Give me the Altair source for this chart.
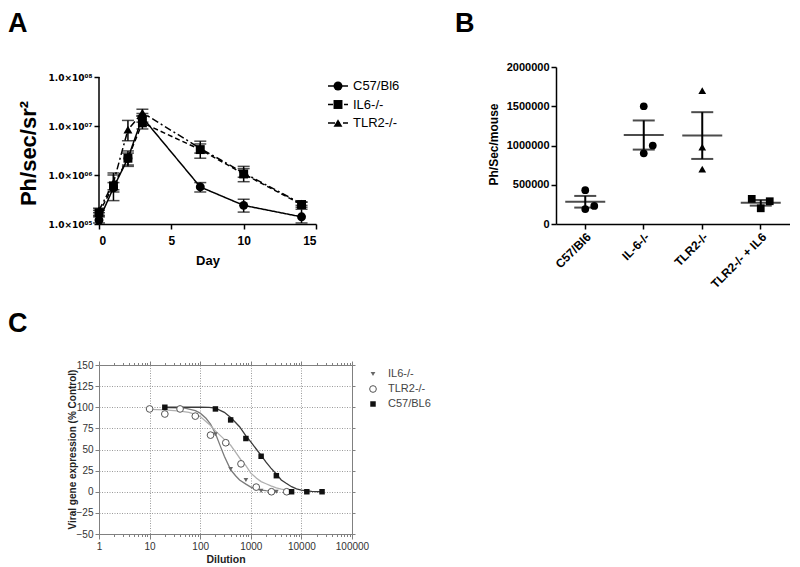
import altair as alt
import pandas as pd

FONT = "Liberation Sans"

# ---------------- Panel A data ----------------
days = [0, 1, 2, 3, 7, 10, 14]
a_series = ["C57/Bl6", "IL6-/-", "TLR2-/-"]
c57_mean = [1.2e5, 5.5e5, 2.2e6, 1.5e7, 5.7e5, 2.4e5, 1.4e5]
c57_lo = [1.05e5, 4.5e5, 1.6e6, 1.2e7, 4.5e5, 1.75e5, 1.05e5]
c57_hi = [1.4e5, 7.0e5, 2.8e6, 1.8e7, 7.0e5, 3.2e5, 2.0e5]
il6_mean = [1.7e5, 6.0e5, 2.2e6, 1.16e7, 3.3e6, 1.05e6, 2.5e5]
il6_lo = [1.5e5, 3.0e5, 1.5e6, 8.7e6, 2.2e6, 7.3e5, 2.2e5]
il6_hi = [1.9e5, 1.1e6, 3.1e6, 1.6e7, 4.9e6, 1.5e6, 2.8e5]
tlr2_mean = [1.9e5, 7.0e5, 8.4e6, 1.87e7, 3.5e6, 1.1e6, 2.6e5]
tlr2_lo = [1.7e5, 5.0e5, 5.0e6, 1.6e7, 2.8e6, 9.0e5, 2.4e5]
tlr2_hi = [2.1e5, 1.0e6, 1.3e7, 2.2e7, 4.3e6, 1.35e6, 2.8e5]
a_ticks = [1e5, 1e6, 1e7, 1e8]
a_xticks = [0, 5, 10, 15]

# ---------------- Panel B data ----------------
b_groups = ["C57/Bl6", "IL-6-/-", "TLR2-/-", "TLR2-/- + IL6"]
b_c57 = [430000, 190000, 230000]
b_il6 = [1500000, 900000, 1000000]
b_tlr2 = [1700000, 980000, 700000]
b_tlr2_il6 = [320000, 290000, 200000]
b_slots = [[0, 0, 1], [0, 0, 1], [0, 0, 0], [-1, 1, 0]]
b_ticks = [0, 500000, 1000000, 1500000, 2000000]

# ---------------- Panel C data ----------------
c_series = ["IL6-/-", "TLR2-/-", "C57/BL6"]
il6_dil = [200, 400, 800, 1600, 3200]
il6_val = [68, 27, 14, 1, 0]
tlr2_dil = [10, 20, 40, 80, 160, 320, 640, 1280, 2560, 5120]
tlr2_val = [98, 92, 98, 89.5, 67, 58, 33, 5.5, 0, 0]
c57_dil = [20, 200, 400, 800, 1600, 3200, 6400, 12800, 25600]
c57_val = [100, 98, 85, 63, 42, 19, 0, 0, 0]
# fitted curves
il6_fit_x = [20, 50, 80, 100, 130, 160, 200, 250, 300, 400, 500, 600, 800, 1000, 1300, 1600, 2000, 2500, 3200]
il6_fit_y = [99.5, 99, 96, 93, 87, 80, 69, 54, 42, 26, 19, 14, 9, 5.5, 3, 2, 1.3, 0.8, 0.3]
tlr2_fit_x = [10, 20, 40, 60, 80, 100, 150, 200, 300, 400, 500, 650, 800, 1000, 1300, 1600, 2000, 2500, 3200, 4000, 5120]
tlr2_fit_y = [97.5, 97, 95.5, 94, 91.5, 89, 80, 72, 62, 55, 47, 37, 31, 22, 16, 12, 9.5, 7, 4.5, 3, 2]
c57_fit_x = [20, 50, 100, 150, 200, 300, 400, 500, 600, 800, 1000, 1300, 1600, 2000, 2500, 3200, 4000, 5000, 6400, 8000, 10000, 12800, 16000, 20000, 25600]
c57_fit_y = [100, 100, 100, 99.8, 99, 94, 88, 82, 77, 66, 59, 50, 43, 35, 28, 21, 14, 10, 6, 3.5, 2, 1, 0.5, 0.2, 0]
c_major = [1, 10, 100, 1000, 10000, 100000]
c_yticks = [-50, -25, 0, 25, 50, 75, 100, 125, 150]

# =============== Panel A ===============
rows = []
for name, m, lo, hi in zip(a_series, [c57_mean, il6_mean, tlr2_mean],
                           [c57_lo, il6_lo, tlr2_lo], [c57_hi, il6_hi, tlr2_hi]):
    for d, mv, l, h in zip(days, m, lo, hi):
        rows.append({"series": name, "day": d, "value": mv, "lo": l, "hi": h})
dfA = pd.DataFrame(rows)

AW, AH = 217, 157
a_dash = [[1, 0], [5, 3], [7, 3, 2, 3]]
a_shapes = ["circle", "square", "triangle-up"]
yscaleA = alt.Scale(type="log", domain=[1e5, 1.6e8], nice=False)
xscaleA = alt.Scale(domain=[0, 15], nice=False)
lab = "'1.0×10' + (datum.value > 5e7 ? '⁰⁸' : datum.value > 5e6 ? '⁰⁷' : datum.value > 5e5 ? '⁰⁶' : '⁰⁵')"

axisAx = alt.Axis(values=a_xticks, title="Day", titleFontSize=13, titleFontWeight="bold",
                  titleY=36, titleBaseline="middle", labelFontSize=12, labelFontWeight="bold",
                  labelPadding=6, tickSize=5, tickWidth=1.5, domainWidth=1.5,
                  domainColor="black", tickColor="black", grid=False, labelColor="black",
                  titleColor="black", labelOverlap=False)
axisAy = alt.Axis(values=a_ticks, labelExpr=lab, domain=False, title="Ph/sec/sr²",
                  titleFontSize=22, titleFontWeight="bold", titleX=-71, titleY=86,
                  titleAngle=-90, titleAlign="center", titleBaseline="middle",
                  labelFont="DejaVu Sans", labelFontSize=9, labelFontWeight="bold",
                  labelPadding=2, tickSize=5, tickWidth=1.5, tickColor="black", grid=False,
                  labelColor="black", titleColor="black", labelOverlap=False)


def ax_a(field):
    return alt.X(field, scale=xscaleA, axis=axisAx)


def ay_a(field):
    return alt.Y(field, scale=yscaleA, axis=axisAy)


baseA = alt.Chart(dfA)
linesA = baseA.mark_line(color="black", strokeWidth=1.5).encode(
    x=ax_a("day:Q"), y=ay_a("value:Q"),
    strokeDash=alt.StrokeDash("series:N", scale=alt.Scale(domain=a_series, range=a_dash), legend=None),
    detail="series:N")
errA = baseA.mark_rule(color="black", strokeWidth=1.5).encode(
    x=ax_a("day:Q"), y=ay_a("lo:Q"), y2="hi:Q")
capLoA = baseA.mark_tick(color="black", size=12, thickness=1.5, orient="horizontal").encode(
    x=ax_a("day:Q"), y=ay_a("lo:Q"))
capHiA = baseA.mark_tick(color="black", size=12, thickness=1.5, orient="horizontal").encode(
    x=ax_a("day:Q"), y=ay_a("hi:Q"))
ptsA = baseA.mark_point(filled=True, color="black", size=80, opacity=1).encode(
    x=ax_a("day:Q"), y=ay_a("value:Q"),
    shape=alt.Shape("series:N", scale=alt.Scale(domain=a_series, range=a_shapes), legend=None))
axisLineA = alt.Chart(pd.DataFrame({"lo": [a_ticks[0]], "hi": [a_ticks[-1]]})).mark_rule(
    color="black", strokeWidth=1.5).encode(
    x=alt.value(0), y=ay_a("lo:Q"), y2="hi:Q")

legA = []
leg_y = [19, 37.5, 56]
for name, dash, shp, ly in zip(a_series, a_dash, a_shapes, leg_y):
    d1 = pd.DataFrame({"label": [name]})
    legA.append(alt.Chart(d1).mark_rule(color="black", strokeWidth=1.5, strokeDash=dash).encode(
        x=alt.value(229), x2=alt.value(249), y=alt.value(ly)))
    legA.append(alt.Chart(d1).mark_point(filled=True, color="black", size=80, shape=shp, opacity=1).encode(
        x=alt.value(239), y=alt.value(ly)))
    legA.append(alt.Chart(d1).mark_text(align="left", baseline="middle", fontSize=13, font=FONT,
                                        color="black").encode(
        x=alt.value(254), y=alt.value(ly), text="label:N"))

labelA = alt.Chart(pd.DataFrame({"t": ["A"]})).mark_text(
    align="left", baseline="top", fontSize=27, fontWeight="bold", font=FONT, color="black").encode(
    x=alt.value(-91), y=alt.value(-56), text="t:N")

chartA = alt.layer(linesA, errA, capLoA, capHiA, ptsA, axisLineA, labelA, *legA).properties(
    width=AW, height=AH)

# =============== Panel B ===============
rowsB = []
for g, vals, sl in zip(b_groups, [b_c57, b_il6, b_tlr2, b_tlr2_il6], b_slots):
    for v, s in zip(vals, sl):
        rowsB.append({"group": g, "v": v, "slot": s})
dfB = pd.DataFrame(rowsB)
BW, BH = 234, 157
b_shapes = ["circle", "square", "triangle-up", "triangle-down"]
xscaleB = alt.Scale(domain=b_groups, paddingInner=0, paddingOuter=0)
yscaleB = alt.Scale(domain=[0, 2000000], nice=False)
axisBx = alt.Axis(title=None, labelAngle=-45, labelFontSize=12, labelFontWeight="bold",
                  labelColor="black", tickColor="black", domainColor="black", tickSize=5,
                  tickWidth=1.5, domainWidth=1.5, labelPadding=2)
axisBy = alt.Axis(values=b_ticks, format="d", title="Ph/Sec/mouse", titleFontSize=12,
                  titleFontWeight="bold", titleX=-63, titleY=77, titleAngle=-90,
                  titleAlign="center", titleBaseline="middle", labelFontSize=11,
                  labelFontWeight="bold", labelColor="black", titleColor="black",
                  tickColor="black", domainColor="black", tickSize=5, tickWidth=1.5,
                  domainWidth=1.5, labelPadding=2, grid=False, labelOverlap=False)


def bx():
    return alt.X("group:N", scale=xscaleB, sort=b_groups, axis=axisBx)


def by(field):
    return alt.Y(field, scale=yscaleB, axis=axisBy)


baseB = alt.Chart(dfB)
ptsB = baseB.mark_point(filled=True, color="black", size=60, opacity=1).encode(
    x=bx(), y=by("v:Q"),
    xOffset=alt.XOffset("slot:Q", scale=alt.Scale(domain=[-1, 1], range=[BW / 8 - 9, BW / 8 + 9])),
    shape=alt.Shape("group:N", scale=alt.Scale(domain=b_groups, range=b_shapes), legend=None))
aggB = baseB.transform_aggregate(m="mean(v)", se="stderr(v)", groupby=["group"]).transform_calculate(
    lo="datum.m - datum.se", hi="datum.m + datum.se")
meanB = aggB.mark_tick(color="black", size=40, thickness=2, orient="horizontal").encode(
    x=bx(), y=by("m:Q"))
errB = aggB.mark_rule(color="black", strokeWidth=2).encode(
    x=bx(), y=by("lo:Q"), y2="hi:Q")
capLoB = aggB.mark_tick(color="black", size=22, thickness=2, orient="horizontal").encode(
    x=bx(), y=by("lo:Q"))
capHiB = aggB.mark_tick(color="black", size=22, thickness=2, orient="horizontal").encode(
    x=bx(), y=by("hi:Q"))
labelB = alt.Chart(pd.DataFrame({"t": ["B"]})).mark_text(
    align="left", baseline="top", fontSize=27, fontWeight="bold", font=FONT, color="black").encode(
    x=alt.value(-101), y=alt.value(-56), text="t:N")
chartB = alt.layer(ptsB, meanB, errB, capLoB, capHiB, labelB).properties(width=BW, height=BH)

# =============== Panel C ===============
rowsC = []
for name, xs, ys in zip(c_series, [il6_dil, tlr2_dil, c57_dil], [il6_val, tlr2_val, c57_val]):
    for xv, yv in zip(xs, ys):
        rowsC.append({"series": name, "dil": xv, "val": yv})
dfC = pd.DataFrame(rowsC)
rowsF = []
for name, xs, ys in zip(c_series, [il6_fit_x, tlr2_fit_x, c57_fit_x], [il6_fit_y, tlr2_fit_y, c57_fit_y]):
    for xv, yv in zip(xs, ys):
        rowsF.append({"series": name, "dil": xv, "val": yv})
dfF = pd.DataFrame(rowsF)

CW, CH = 253, 169
minor = [d * k for d in [1, 10, 100, 1000, 10000] for k in range(1, 10)] + [100000]
is_major = "indexof([1,10,100,1000,10000,100000], datum.value) >= 0"
xscaleC = alt.Scale(type="log", domain=[1, 100000], nice=False)
yscaleC = alt.Scale(domain=[-50, 150], nice=False)
frame = "#808080"
xC_bottom = alt.X("dil:Q", scale=xscaleC, axis=alt.Axis(
    values=minor, labelExpr=is_major + " ? format(datum.value, 'd') : ''",
    tickSize={"condition": {"test": is_major, "value": 5}, "value": 2.5},
    gridOpacity={"condition": {"test": is_major, "value": 1}, "value": 0},
    grid=True, gridDash=[1, 1.5], gridColor="#9a9a9a", domainColor=frame, tickColor=frame,
    labelFontSize=10, labelColor="#333", labelPadding=2, title="Dilution", titleFontSize=10.5,
    titleFontWeight="bold", titleColor="#222", titleY=25, titleBaseline="middle", labelFlush=False,
    labelOverlap=False))
yC_left = alt.Y("val:Q", scale=yscaleC, axis=alt.Axis(
    values=c_yticks, grid=True, gridDash=[1, 1.5], gridColor="#9a9a9a", domainColor=frame,
    tickColor=frame, tickSize=4, labelFontSize=10, labelColor="#333", labelPadding=2,
    title="Viral gene expression (% Control)", titleFontSize=10, titleFontWeight="bold",
    titleColor="#222", titleX=-27, titleY=84, titleAngle=-90, titleAlign="center",
    titleBaseline="middle", labelOverlap=False))
xC_top = alt.X("dil:Q", scale=xscaleC, axis=alt.Axis(
    orient="top", values=minor, labels=False, title=None, grid=False, domainColor=frame,
    tickColor=frame, tickSize={"condition": {"test": is_major, "value": 4}, "value": 2.5}))
yC_right = alt.Y("val:Q", scale=yscaleC, axis=alt.Axis(
    orient="right", values=c_yticks, labels=False, title=None, grid=False, domainColor=frame,
    tickColor=frame, tickSize=3))
xC_none = alt.X("dil:Q", scale=xscaleC, axis=None)
yC_none = alt.Y("val:Q", scale=yscaleC, axis=None)

fit_colors = ["#7a7a7a", "#b0b0b0", "#3a3a3a"]
curvesC = alt.Chart(dfF).mark_line(strokeWidth=1.3).encode(
    x=xC_top, y=yC_right,
    color=alt.Color("series:N", scale=alt.Scale(domain=c_series, range=fit_colors), legend=None),
    detail="series:N")
il6P = alt.Chart(dfC).transform_filter(alt.datum.series == c_series[0]).mark_point(
    shape="triangle-down", filled=True, color="#666", size=22, opacity=1).encode(x=xC_bottom, y=yC_left)
tlrP = alt.Chart(dfC).transform_filter(alt.datum.series == c_series[1]).mark_point(
    shape="circle", filled=False, fill="white", stroke="#555", strokeWidth=1, size=45, opacity=1).encode(
    x=xC_none, y=yC_none)
c57P = alt.Chart(dfC).transform_filter(alt.datum.series == c_series[2]).mark_point(
    shape="square", filled=True, color="#111", size=30, opacity=1).encode(
    x=xC_none, y=yC_none)

legC = []
leg_cy = [9, 24, 39]
leg_marks = [dict(shape="triangle-down", filled=True, color="#666", size=22),
             dict(shape="circle", filled=False, fill="white", stroke="#555", strokeWidth=1, size=45),
             dict(shape="square", filled=True, color="#111", size=30)]
for name, ly, mk in zip(c_series, leg_cy, leg_marks):
    d1 = pd.DataFrame({"label": [name]})
    legC.append(alt.Chart(d1).mark_point(opacity=1, **mk).encode(x=alt.value(274), y=alt.value(ly)))
    legC.append(alt.Chart(d1).mark_text(align="left", baseline="middle", fontSize=11, font=FONT,
                                        color="#444").encode(
        x=alt.value(289), y=alt.value(ly), text="label:N"))
labelC = alt.Chart(pd.DataFrame({"t": ["C"]})).mark_text(
    align="left", baseline="top", fontSize=27, fontWeight="bold", font=FONT, color="black").encode(
    x=alt.value(-91), y=alt.value(-54), text="t:N")

chartC = alt.layer(curvesC, il6P, tlrP, c57P, labelC, *legC).resolve_axis(
    x="independent", y="independent").properties(width=CW, height=CH)

chart = alt.concat(chartA, chartB, chartC, columns=2, spacing={"row": 141, "column": 204},
                   bounds="flush", align="each",
                   padding={"top": 2, "left": 0, "right": 0, "bottom": 0}).configure(
    font=FONT).configure_view(stroke=None)

chart.save("out.html", embed_options={"renderer": "svg", "actions": False})
